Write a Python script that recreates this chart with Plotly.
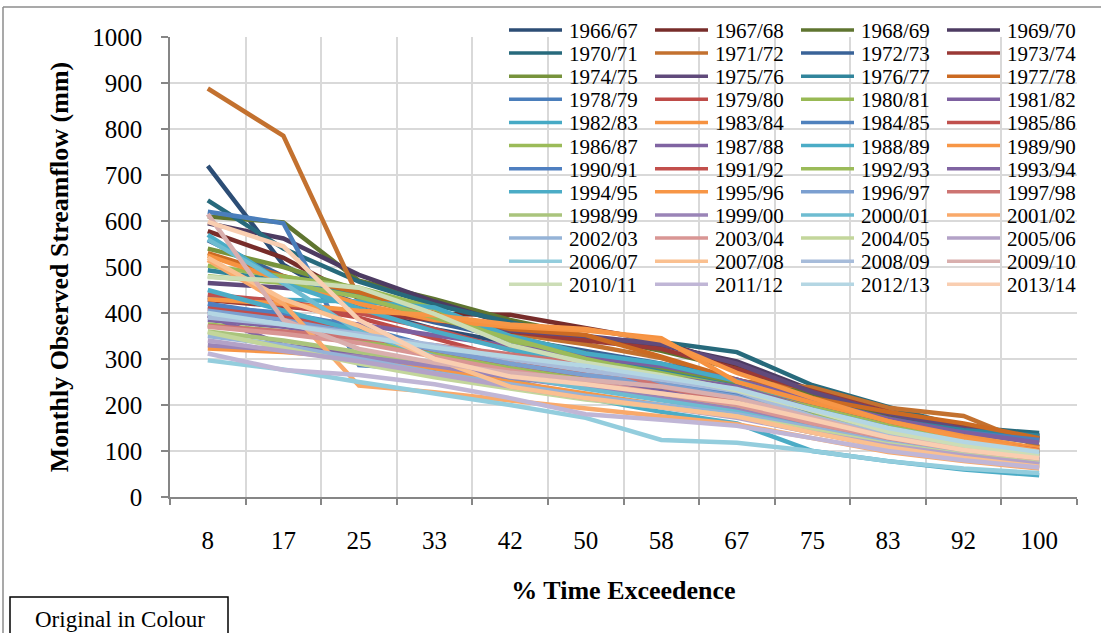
import plotly.graph_objects as go

# Flow duration curves: monthly observed streamflow vs % time exceedence, one curve per water year
exceedence = ["8", "17", "25", "33", "42", "50", "58", "67", "75", "83", "92", "100"]

years = [
    "1966/67", "1967/68", "1968/69", "1969/70", "1970/71", "1971/72", "1972/73", "1973/74",
    "1974/75", "1975/76", "1976/77", "1977/78", "1978/79", "1979/80", "1980/81", "1981/82",
    "1982/83", "1983/84", "1984/85", "1985/86", "1986/87", "1987/88", "1988/89", "1989/90",
    "1990/91", "1991/92", "1992/93", "1993/94", "1994/95", "1995/96", "1996/97", "1997/98",
    "1998/99", "1999/00", "2000/01", "2001/02", "2002/03", "2003/04", "2004/05", "2005/06",
    "2006/07", "2007/08", "2008/09", "2009/10", "2010/11", "2011/12", "2012/13", "2013/14",
]

flow_1966_67 = [720, 505, 410, 365, 335, 305, 280, 250, 205, 168, 148, 134]
flow_1967_68 = [578, 520, 432, 398, 396, 366, 338, 284, 226, 178, 150, 126]
flow_1968_69 = [610, 597, 470, 430, 385, 350, 318, 278, 222, 176, 148, 128]
flow_1969_70 = [595, 562, 483, 425, 375, 345, 330, 295, 232, 182, 152, 131]
flow_1970_71 = [645, 540, 468, 418, 380, 344, 337, 315, 243, 196, 152, 139]
flow_1971_72 = [888, 785, 432, 392, 356, 332, 302, 252, 238, 194, 176, 109]
flow_1972_73 = [558, 480, 420, 380, 345, 318, 290, 255, 210, 170, 145, 132]
flow_1973_74 = [428, 415, 400, 385, 360, 340, 322, 278, 230, 185, 150, 122]
flow_1974_75 = [540, 500, 450, 395, 350, 312, 280, 245, 205, 168, 140, 118]
flow_1975_76 = [465, 455, 442, 398, 362, 350, 332, 290, 228, 182, 148, 125]
flow_1976_77 = [493, 470, 440, 392, 348, 305, 272, 240, 200, 168, 145, 133]
flow_1977_78 = [530, 480, 445, 400, 365, 352, 305, 255, 215, 185, 160, 128]
flow_1978_79 = [620, 595, 287, 276, 262, 250, 236, 214, 184, 158, 140, 124]
flow_1979_80 = [435, 418, 390, 345, 300, 270, 250, 222, 185, 150, 120, 98]
flow_1980_81 = [503, 480, 455, 410, 340, 300, 270, 238, 200, 160, 128, 104]
flow_1981_82 = [400, 390, 375, 352, 330, 305, 285, 255, 210, 170, 140, 118]
flow_1982_83 = [432, 428, 425, 412, 350, 312, 290, 252, 200, 155, 122, 100]
flow_1983_84 = [525, 470, 420, 385, 370, 362, 345, 250, 205, 165, 132, 106]
flow_1984_85 = [414, 400, 370, 325, 280, 255, 245, 225, 180, 140, 112, 92]
flow_1985_86 = [440, 425, 400, 365, 320, 285, 260, 235, 195, 155, 125, 101]
flow_1986_87 = [480, 465, 435, 390, 345, 300, 265, 232, 195, 155, 120, 96]
flow_1987_88 = [385, 370, 345, 320, 300, 282, 262, 240, 190, 150, 118, 94]
flow_1988_89 = [570, 465, 410, 360, 320, 290, 262, 232, 190, 150, 118, 92]
flow_1989_90 = [430, 420, 405, 395, 375, 365, 340, 270, 215, 165, 128, 100]
flow_1990_91 = [420, 395, 365, 320, 275, 245, 225, 200, 168, 132, 105, 84]
flow_1991_92 = [410, 390, 360, 315, 290, 260, 240, 210, 172, 138, 110, 88]
flow_1992_93 = [375, 360, 340, 310, 280, 255, 240, 215, 178, 140, 112, 90]
flow_1993_94 = [395, 330, 310, 290, 270, 250, 230, 205, 165, 130, 102, 82]
flow_1994_95 = [450, 405, 360, 305, 255, 215, 185, 160, 100, 78, 60, 47]
flow_1995_96 = [323, 315, 302, 280, 250, 225, 200, 175, 140, 108, 82, 66]
flow_1996_97 = [405, 385, 355, 320, 290, 265, 245, 218, 170, 130, 100, 80]
flow_1997_98 = [372, 360, 345, 330, 310, 290, 240, 205, 160, 120, 95, 76]
flow_1998_99 = [360, 340, 315, 290, 265, 240, 220, 195, 160, 125, 100, 80]
flow_1999_00 = [330, 320, 305, 285, 260, 238, 215, 190, 152, 120, 92, 73]
flow_2000_01 = [560, 465, 360, 305, 265, 235, 210, 185, 150, 118, 90, 70]
flow_2001_02 = [515, 420, 242, 228, 210, 192, 175, 158, 128, 98, 78, 62]
flow_2002_03 = [350, 330, 300, 270, 245, 220, 200, 180, 150, 118, 94, 75]
flow_2003_04 = [370, 355, 335, 305, 275, 250, 225, 200, 160, 128, 102, 82]
flow_2004_05 = [358, 325, 290, 260, 235, 212, 195, 175, 145, 115, 92, 74]
flow_2005_06 = [340, 318, 295, 268, 240, 215, 195, 172, 140, 112, 90, 72]
flow_2006_07 = [297, 277, 250, 225, 200, 172, 124, 118, 100, 78, 62, 52]
flow_2007_08 = [520, 430, 372, 300, 240, 215, 195, 175, 140, 108, 85, 66]
flow_2008_09 = [390, 375, 355, 330, 300, 275, 255, 230, 175, 135, 105, 85]
flow_2009_10 = [615, 385, 322, 292, 270, 255, 240, 215, 172, 130, 108, 92]
flow_2010_11 = [478, 470, 455, 398, 330, 292, 265, 232, 188, 142, 112, 90]
flow_2011_12 = [312, 276, 265, 245, 215, 180, 168, 155, 128, 100, 80, 64]
flow_2012_13 = [400, 375, 350, 325, 305, 285, 260, 235, 190, 150, 120, 98]
flow_2013_14 = [598, 545, 385, 300, 262, 245, 225, 205, 168, 130, 102, 84]

flows = [
    flow_1966_67, flow_1967_68, flow_1968_69, flow_1969_70, flow_1970_71, flow_1971_72,
    flow_1972_73, flow_1973_74, flow_1974_75, flow_1975_76, flow_1976_77, flow_1977_78,
    flow_1978_79, flow_1979_80, flow_1980_81, flow_1981_82, flow_1982_83, flow_1983_84,
    flow_1984_85, flow_1985_86, flow_1986_87, flow_1987_88, flow_1988_89, flow_1989_90,
    flow_1990_91, flow_1991_92, flow_1992_93, flow_1993_94, flow_1994_95, flow_1995_96,
    flow_1996_97, flow_1997_98, flow_1998_99, flow_1999_00, flow_2000_01, flow_2001_02,
    flow_2002_03, flow_2003_04, flow_2004_05, flow_2005_06, flow_2006_07, flow_2007_08,
    flow_2008_09, flow_2009_10, flow_2010_11, flow_2011_12, flow_2012_13, flow_2013_14,
]

colors = [
    "#2C4D75", "#772C2A", "#5F7530", "#4D3B62",
    "#276A7C", "#C3712F", "#3A6398", "#9A3936",
    "#77933C", "#604A7B", "#31859C", "#CB6A22",
    "#4A7EBB", "#BE4B48", "#98B954", "#7D60A0",
    "#46AAC5", "#F69240", "#4F81BD", "#C0504D",
    "#9BBB59", "#8064A2", "#4BACC6", "#F79646",
    "#4F7FC0", "#C24F4C", "#9BBB59", "#8064A2",
    "#4BACC6", "#F79646", "#7B9FD0", "#CD7472",
    "#AAC47C", "#9A84B7", "#6EBCD1", "#F9A96A",
    "#95B3D7", "#D99694", "#C3D69B", "#B3A2C7",
    "#93CDDD", "#FAC090", "#A7BCDA", "#D9AFAE",
    "#CCDDB6", "#C0B6D6", "#B4D6E3", "#F9CEB1",
]

SERIF = "Liberation Serif"
W, H = 1101, 633
L, R, T, B = 170, 24, 37, 136
PW, PH = W - L - R, H - T - B


def px(x):
    return (x - L) / PW


def py(y):
    return (H - B - y) / PH


fig = go.Figure()
for name, vals, col in zip(years, flows, colors):
    fig.add_trace(go.Scatter(
        x=exceedence, y=vals, name=name, mode="lines",
        line=dict(color=col, width=4.5),
        showlegend=False,
    ))

shapes = []
annotations = []

# Legend laid out as a 4-column grid over the upper plot area
for i, (name, col) in enumerate(zip(years, colors)):
    r, c = divmod(i, 4)
    x0 = 509 + 146 * c
    yc = 30 + 23.12 * r
    shapes.append(dict(type="line", xref="paper", yref="paper",
                       x0=px(x0), x1=px(x0 + 53), y0=py(yc), y1=py(yc),
                       line=dict(color=col, width=3.5)))
    annotations.append(dict(text=name, xref="paper", yref="paper",
                            x=px(x0 + 58), y=py(yc + 1), xanchor="left", yanchor="middle",
                            showarrow=False, font=dict(family=SERIF, size=21, color="black")))

# Chart-area border (top and left edges)
shapes.append(dict(type="line", xref="paper", yref="paper",
                   x0=px(3), x1=px(W + 5), y0=py(7), y1=py(7),
                   line=dict(color="#8C8C8C", width=1.5)))
shapes.append(dict(type="line", xref="paper", yref="paper",
                   x0=px(3), x1=px(3), y0=py(7), y1=py(H + 5),
                   line=dict(color="#8C8C8C", width=1.5)))

# Boxed note at bottom-left
shapes.append(dict(type="rect", xref="paper", yref="paper",
                   x0=px(10), x1=px(228), y0=py(597), y1=py(H + 10),
                   line=dict(color="black", width=1.5), fillcolor="white"))
annotations.append(dict(text="Original in Colour", xref="paper", yref="paper",
                        x=px(120), y=py(619), xanchor="center", yanchor="middle",
                        showarrow=False, font=dict(family=SERIF, size=23, color="black")))

fig.update_layout(
    width=W, height=H,
    margin=dict(l=L, r=R, t=T, b=B, pad=0),
    paper_bgcolor="white", plot_bgcolor="white",
    showlegend=False,
    shapes=shapes, annotations=annotations,
    font=dict(family=SERIF, color="black"),
)

fig.update_xaxes(
    type="category", range=[-0.5, 11.5], tickson="boundaries",
    showgrid=True, gridcolor="#D9D9D9", gridwidth=1.5,
    showline=True, linecolor="#868686", linewidth=1.5,
    ticks="outside", ticklen=6, tickcolor="#868686", tickwidth=1.5,
    ticklabelstandoff=20,
    tickfont=dict(family=SERIF, size=25, color="black"),
    title=dict(text="% Time Exceedence", standoff=28,
               font=dict(family=SERIF, size=26, color="black", weight="bold")),
)
fig.update_yaxes(
    range=[0, 1000], dtick=100, zeroline=False,
    showgrid=True, gridcolor="#D9D9D9", gridwidth=1.5,
    showline=True, linecolor="#868686", linewidth=1.5,
    ticks="outside", ticklen=7, tickcolor="#868686", tickwidth=1.5,
    ticklabelstandoff=14,
    tickfont=dict(family=SERIF, size=25, color="black"),
    title=dict(text="Monthly Observed Streamflow (mm)", standoff=16,
               font=dict(family=SERIF, size=26, color="black", weight="bold")),
)

fig.write_html("out.html")
